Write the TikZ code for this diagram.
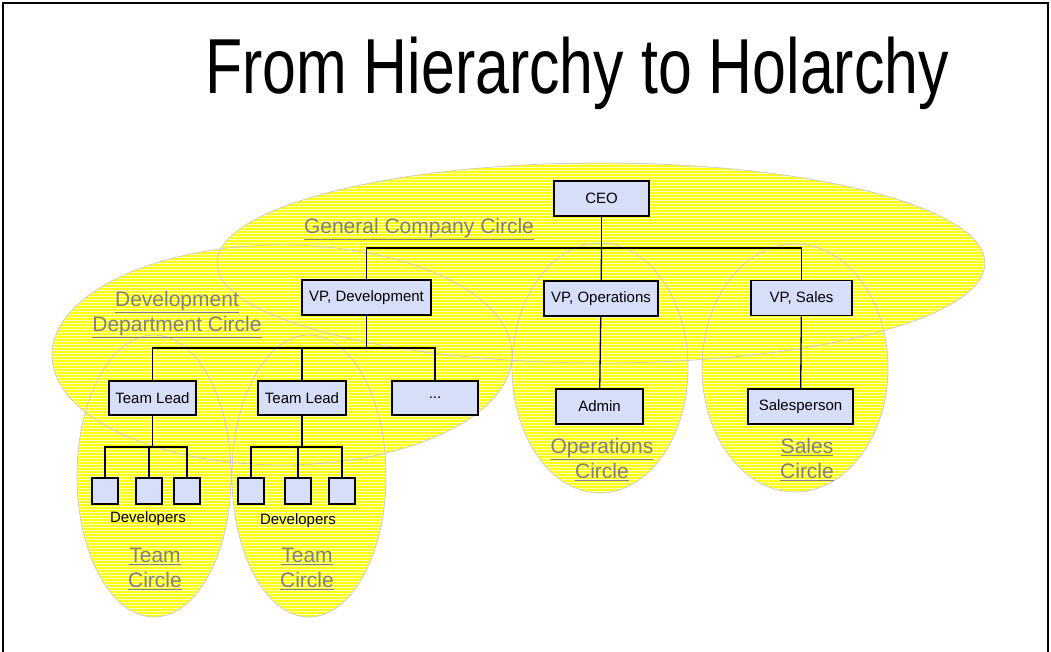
\documentclass[tikz,border=0pt]{standalone}
\usepackage{fontspec}
\setmainfont{Liberation Sans}
\newfontfamily\titlefont[FakeStretch=0.78]{Liberation Sans}

\definecolor{boxblue}{RGB}{214,222,248}
\definecolor{labelgray}{RGB}{128,128,128}
\definecolor{rimgray}{RGB}{205,205,205}
\definecolor{stripeyellow}{RGB}{255,255,20}
\definecolor{paleyellow}{RGB}{255,255,195}

\newcommand{\holons}{(601,263) ellipse [x radius=384, y radius=100]
  (282,355) ellipse [x radius=230, y radius=110]
  (154,476) ellipse [x radius=77, y radius=141]
  (309,476) ellipse [x radius=77, y radius=141]
  (600,368) ellipse [x radius=88, y radius=125]
  (795,368) ellipse [x radius=93, y radius=124]}

\tikzset{
  role/.style={draw, line width=1.5pt, fill=boxblue, minimum height=35pt, inner sep=0pt,
    font=\fontsize{15}{18}\selectfont},
  member/.style={draw, line width=1.5pt, fill=boxblue, minimum size=26pt, inner sep=0pt},
  link/.style={line width=1.3pt},
  holonname/.style={text=labelgray, align=center, inner sep=0pt,
    font=\fontsize{21}{25}\selectfont},
}

\begin{document}
\begin{tikzpicture}[x=1pt, y=-1pt]
  \useasboundingbox (0,0) rectangle (1051,651);
  % slide frame
  \draw[line width=2pt] (3,660) -- (3,3) -- (1048,3) -- (1048,660);

  % circles: striped fill, then rims
  \begin{scope}
    \clip \holons;
    \fill[paleyellow] (40,150) rectangle (1000,630);
    \foreach \y in {150,153,...,630}
      \fill[stripeyellow] (40,\y) rectangle (1000,\y+1.5);
  \end{scope}
  \draw[rimgray, line width=0.8pt] \holons;

  \node[anchor=base] (title) at (577,93) {\titlefont\fontsize{78}{80}\selectfont From Hierarchy to Holarchy};

  % roles
  \node[role, minimum width=95pt] (ceo) at (601.5,198.5) {CEO};
  \node[role, minimum width=129pt] (vpdev) at (366.5,297.5) {VP, Development};
  \node[role, minimum width=114pt] (vpops) at (601,298.5) {VP, Operations};
  \node[role, minimum width=101pt] (vpsales) at (801.5,298) {VP, Sales};
  \node[role, minimum width=87pt, minimum height=34pt] (lead1) at (152.5,398) {Team Lead};
  \node[role, minimum width=88pt, minimum height=34pt] (lead2) at (302,398) {Team Lead};
  \node[role, minimum width=86pt, minimum height=34pt] (more) at (435,398) {...};
  \node[role, minimum width=87pt] (admin) at (599.5,406.5) {Admin};
  \node[role, minimum width=105pt] (sales) at (800.5,406.5) {Salesperson};

  \node[member] (dev11) at (105,491) {};
  \node[member] (dev12) at (149,491) {};
  \node[member] (dev13) at (187,491) {};
  \node[member] (dev21) at (251,491) {};
  \node[member] (dev22) at (298,491) {};
  \node[member] (dev23) at (342,491) {};

  % connectors
  \coordinate (ceobus) at (601.5,248);
  \coordinate (devbus) at (366.5,348);
  \coordinate (team1bus) at (152.5,447);
  \coordinate (team2bus) at (302,447);
  \draw[link] (ceo) -- (ceobus);
  \draw[link] (ceobus) -| (vpdev);
  \draw[link] (ceobus) -| (vpsales);
  \draw[link] (ceobus) -- (vpops);
  \draw[link] (vpops) -- (admin);
  \draw[link] (vpsales) -- (sales);
  \draw[link] (vpdev) -- (devbus);
  \draw[link] (devbus) -| (lead1);
  \draw[link] (devbus) -| (lead2);
  \draw[link] (devbus) -| (more);
  \draw[link] (lead1) -- (team1bus);
  \draw[link] (team1bus) -| (dev11);
  \draw[link] (team1bus) -| (dev12);
  \draw[link] (team1bus) -| (dev13);
  \draw[link] (lead2) -- (team2bus);
  \draw[link] (team2bus) -| (dev21);
  \draw[link] (team2bus) -| (dev22);
  \draw[link] (team2bus) -| (dev23);

  \node[font=\fontsize{15}{18}\selectfont] (devs1) at (148,519) {Developers};
  \node[font=\fontsize{15}{18}\selectfont] (devs2) at (298,521) {Developers};

  % circle names
  \node[holonname, anchor=base] (general) at (419,233) {\underline{General Company Circle}};
  \node[holonname] (devdept) at (177,314.5) {\underline{Development}\\\underline{Department Circle}};
  \node[holonname] (ops) at (602,459.5) {\underline{Operations}\\\underline{Circle}};
  \node[holonname] (salescircle) at (807,459.5) {\underline{Sales}\\\underline{Circle}};
  \node[holonname] (team1) at (155,568.5) {\underline{Team}\\\underline{Circle}};
  \node[holonname] (team2) at (307,568.5) {\underline{Team}\\\underline{Circle}};
\end{tikzpicture}
\end{document}
